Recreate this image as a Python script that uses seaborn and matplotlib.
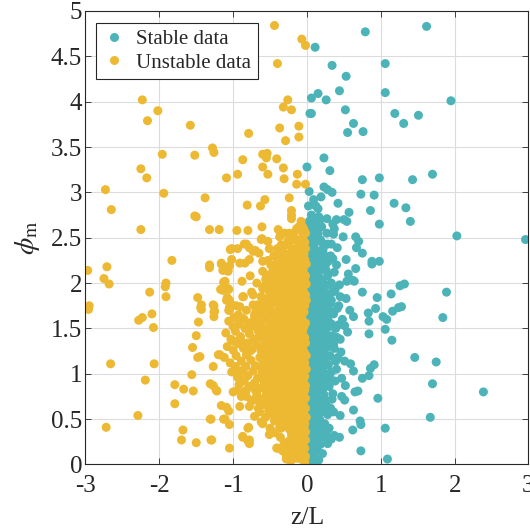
import numpy as np
import pandas as pd
import matplotlib
matplotlib.use("Agg")
import matplotlib.pyplot as plt
import seaborn as sns

# ---------------------------------------------------------------- data
# Stable stratification (z/L > 0): scattered points
stable_sparse = [
    (1.62, 4.83), (0.79, 4.77), (0.11, 4.60), (1.06, 4.42), (0.34, 4.40), (0.53, 4.28),
    (0.44, 4.12), (0.15, 4.09), (0.06, 4.04), (0.26, 4.02), (1.06, 4.10), (1.95, 4.01),
    (0.04, 3.87), (0.06, 3.87), (0.52, 3.91), (1.19, 3.87), (1.51, 3.85), (0.63, 3.76),
    (1.31, 3.76), (0.55, 3.66), (0.76, 3.67), (0.23, 3.38), (0.00, 3.28), (0.31, 3.24),
    (1.70, 3.20), (0.98, 3.16), (0.75, 3.14), (1.43, 3.14), (0.23, 3.06), (0.28, 3.03),
    (0.34, 3.00), (0.03, 3.01), (0.19, 2.95), (0.09, 2.92), (0.02, 2.85), (0.12, 2.85),
    (0.15, 2.82), (0.42, 2.88), (0.73, 2.98), (0.91, 2.97), (1.18, 2.88), (1.34, 2.83),
    (0.86, 2.80), (0.57, 2.78), (0.16, 2.73), (0.27, 2.71), (0.35, 2.65), (0.40, 2.70),
    (0.50, 2.70), (0.54, 2.68), (1.40, 2.68), (0.98, 2.65), (0.37, 2.60), (0.36, 2.54),
    (0.02, 2.63), (2.03, 2.52), (2.96, 2.48), (0.49, 2.51), (0.66, 2.51), (0.70, 2.46),
    (0.15, 2.49), (0.18, 2.48), (0.09, 2.47), (0.04, 2.48), (0.28, 2.43), (0.41, 2.39),
    (0.33, 2.43), (0.09, 2.38), (0.67, 2.39), (0.75, 2.33), (0.22, 2.33), (0.53, 2.26),
    (0.35, 2.27), (0.29, 2.24), (0.18, 2.22), (0.88, 2.24), (0.98, 2.24),
    (0.66, 2.16), (0.88, 2.21), (0.56, 2.10), (0.62, 2.03), (0.54, 2.02), (0.64, 2.02),
    (1.26, 1.97), (1.32, 1.99), (1.89, 1.90), (0.75, 1.90), (1.14, 1.88), (0.53, 1.83),
    (0.95, 1.84), (0.33, 1.81), (0.43, 1.75), (0.93, 1.72), (1.28, 1.74), (1.24, 1.73),
    (1.16, 1.69), (0.83, 1.67), (0.58, 1.70), (0.63, 1.63), (1.03, 1.63), (1.08, 1.60),
    (1.84, 1.62), (0.84, 1.58), (0.84, 1.44), (0.43, 1.54), (0.51, 1.53), (0.33, 1.55),
    (0.55, 1.46), (1.06, 1.49), (1.15, 1.37), (0.31, 1.38), (0.36, 1.33), (0.46, 1.24),
    (0.39, 1.14), (0.51, 1.14), (0.59, 1.11), (1.46, 1.18), (1.75, 1.13), (0.91, 1.10),
    (0.86, 1.06), (0.84, 0.98), (0.75, 0.95), (0.63, 1.03), (1.70, 0.89), (2.39, 0.80),
    (0.65, 0.80), (0.69, 0.81), (0.52, 0.87), (0.47, 0.75), (0.51, 0.71), (0.96, 0.73),
    (0.63, 0.60), (0.45, 0.54), (1.67, 0.52), (0.72, 0.48), (0.73, 0.44), (0.62, 0.38),
    (1.06, 0.40), (0.21, 0.42), (0.26, 0.34), (0.37, 0.32), (0.44, 0.30), (0.28, 0.23),
    (0.33, 0.28), (0.73, 0.15), (1.09, 0.06), (0.09, 0.09), (0.03, 0.01), (0.10, 0.15),
]

# Stable stratification: points piled up just above neutral
stable_core = [
    (0.02, 0.02), (0.06, 0.05), (0.03, 0.10), (0.09, 0.12), (0.05, 0.16),
    (0.02, 0.21), (0.08, 0.22), (0.13, 0.20), (0.05, 0.27), (0.11, 0.28),
    (0.02, 0.33), (0.08, 0.34), (0.14, 0.32), (0.05, 0.39), (0.11, 0.40), (0.17, 0.38),
    (0.02, 0.45), (0.08, 0.46), (0.14, 0.44), (0.05, 0.51), (0.11, 0.52), (0.17, 0.50),
    (0.02, 0.57), (0.08, 0.58), (0.14, 0.56), (0.20, 0.58), (0.05, 0.63), (0.11, 0.64), (0.17, 0.62),
    (0.02, 0.69), (0.08, 0.70), (0.14, 0.68), (0.20, 0.70), (0.05, 0.75), (0.11, 0.76), (0.17, 0.74),
    (0.02, 0.81), (0.08, 0.82), (0.14, 0.80), (0.21, 0.82), (0.05, 0.87), (0.11, 0.88), (0.17, 0.86),
    (0.02, 0.93), (0.08, 0.94), (0.14, 0.92), (0.20, 0.95), (0.05, 0.99), (0.11, 1.00), (0.17, 0.98),
    (0.02, 1.05), (0.08, 1.06), (0.14, 1.04), (0.21, 1.06), (0.05, 1.11), (0.11, 1.12), (0.17, 1.10), (0.24, 1.12),
    (0.02, 1.17), (0.08, 1.18), (0.14, 1.16), (0.20, 1.18), (0.05, 1.23), (0.11, 1.24), (0.17, 1.22), (0.23, 1.25),
    (0.02, 1.29), (0.08, 1.30), (0.14, 1.28), (0.20, 1.30), (0.05, 1.35), (0.11, 1.36), (0.17, 1.34), (0.24, 1.36),
    (0.02, 1.41), (0.08, 1.42), (0.14, 1.40), (0.20, 1.43), (0.05, 1.47), (0.11, 1.48), (0.17, 1.46), (0.25, 1.48),
    (0.02, 1.53), (0.08, 1.54), (0.14, 1.52), (0.21, 1.54), (0.05, 1.59), (0.11, 1.60), (0.17, 1.58), (0.24, 1.60),
    (0.02, 1.65), (0.08, 1.66), (0.14, 1.64), (0.20, 1.66), (0.05, 1.71), (0.11, 1.72), (0.17, 1.70), (0.26, 1.72),
    (0.02, 1.77), (0.08, 1.78), (0.14, 1.76), (0.21, 1.78), (0.05, 1.83), (0.11, 1.84), (0.17, 1.82), (0.24, 1.84),
    (0.02, 1.89), (0.08, 1.90), (0.14, 1.88), (0.20, 1.90), (0.05, 1.95), (0.11, 1.96), (0.17, 1.94), (0.25, 1.97),
    (0.02, 2.01), (0.08, 2.02), (0.14, 2.00), (0.21, 2.02), (0.05, 2.07), (0.11, 2.08), (0.17, 2.06),
    (0.02, 2.13), (0.08, 2.14), (0.14, 2.12), (0.20, 2.15), (0.05, 2.19), (0.11, 2.20), (0.17, 2.18),
    (0.02, 2.25), (0.08, 2.26), (0.14, 2.24), (0.05, 2.31), (0.11, 2.32), (0.17, 2.30),
    (0.02, 2.37), (0.08, 2.38), (0.13, 2.36), (0.05, 2.43), (0.10, 2.44),
    (0.02, 2.50), (0.07, 2.52), (0.04, 2.58), (0.09, 2.62), (0.03, 2.68), (0.06, 2.75),
    (0.28, 0.55), (0.32, 0.62), (0.27, 0.70), (0.35, 0.78), (0.30, 0.86), (0.26, 0.94),
    (0.38, 0.92), (0.33, 1.02), (0.29, 1.10), (0.40, 1.05), (0.31, 1.20), (0.37, 1.28),
    (0.29, 1.30), (0.42, 1.18), (0.34, 1.42), (0.30, 1.52), (0.39, 1.50), (0.45, 1.38),
    (0.28, 1.62), (0.36, 1.66), (0.32, 1.78), (0.41, 1.72), (0.29, 1.88), (0.38, 1.92),
    (0.33, 2.00), (0.44, 1.98), (0.28, 2.08), (0.37, 2.12), (0.25, 2.20), (0.32, 2.30),
    (0.22, 2.38), (0.27, 2.55), (0.20, 2.62), (0.24, 0.45), (0.30, 0.40), (0.22, 0.30),
    (0.18, 0.22), (0.14, 0.15), (0.48, 1.60), (0.47, 0.95), (0.45, 1.85), (0.26, 1.00),
    (0.24, 1.75),
    (0.19, 0.32), (0.22, 0.44), (0.24, 0.62), (0.23, 0.77), (0.25, 0.88), (0.27, 1.18),
    (0.28, 1.42), (0.29, 1.58), (0.30, 1.70), (0.29, 1.98), (0.26, 2.14), (0.22, 2.26),
    (0.20, 2.45), (0.15, 2.55), (0.12, 2.68), (0.18, 2.70), (0.34, 0.72), (0.38, 1.15),
    (0.41, 1.40), (0.35, 1.90), (0.40, 2.20), (0.31, 0.95), (0.36, 0.58), (0.21, 0.12),
    (0.16, 0.05), (0.08, 0.02),
]

# Unstable stratification (z/L < 0): scattered points
unstable_sparse = [
    (-2.23, 4.02), (-2.02, 3.90), (-2.16, 3.79), (-1.58, 3.74), (-0.79, 3.65), (-1.28, 3.49),
    (-1.26, 3.44), (-1.96, 3.42), (-1.52, 3.41), (-0.87, 3.36), (-2.25, 3.26), (-2.17, 3.16),
    (-0.94, 3.20), (-1.09, 3.16), (-2.73, 3.03), (-1.94, 2.99), (-1.38, 2.94), (-2.65, 2.81),
    (-0.81, 2.86), (-0.63, 2.85), (-1.52, 2.74), (-1.50, 2.73), (-2.25, 2.59), (-1.32, 2.59),
    (-1.19, 2.59), (-0.95, 2.58), (-0.80, 2.58), (-0.61, 2.62), (-0.62, 2.48), (-0.82, 2.43),
    (-0.78, 2.39), (-1.04, 2.37), (-0.94, 2.38), (-0.70, 2.36), (-0.65, 2.33), (-1.83, 2.25),
    (-0.60, 3.42), (-0.60, 3.28),
    (-0.44, 4.84), (-0.07, 4.69), (-0.02, 4.62), (-0.40, 4.42), (-0.26, 4.02), (-0.32, 3.94),
    (-0.21, 3.91), (-0.37, 3.71), (-0.11, 3.73), (-0.29, 3.57), (-0.11, 3.61), (-0.54, 3.43),
    (-0.55, 3.38), (-0.41, 3.37), (-0.32, 3.27), (-0.53, 3.20), (-0.31, 3.15), (-0.13, 3.20),
    (-0.14, 3.09), (-0.02, 3.09), (-0.57, 2.92), (-0.24, 2.94), (-0.21, 2.80), (-0.21, 2.75),
    (-0.06, 2.62), (-0.04, 2.59), (-0.39, 2.59),
    (-0.21, 2.71), (-0.11, 2.62), (-0.08, 2.58), (-1.02, 2.38), (-0.85, 2.43), (-0.73, 2.35),
    (-0.61, 2.49), (-0.53, 2.46), (-0.51, 2.38), (-0.37, 2.51), (-0.35, 2.42), (-0.26, 2.46),
    (-0.15, 2.48), (-1.02, 2.26), (-0.91, 2.22), (-0.84, 2.22), (-0.78, 2.26), (-1.32, 2.20),
    (-1.16, 2.22), (-1.14, 2.14), (-1.07, 2.14), (-0.60, 2.24), (-0.49, 2.20), (-0.60, 2.13),
    (-0.42, 2.31), (-1.11, 2.02), (-1.14, 1.92), (-1.07, 1.94), (-1.05, 1.81), (-1.02, 1.76),
    (-1.27, 1.76), (-1.25, 1.69), (-0.87, 1.85), (-0.73, 1.87), (-0.60, 1.94), (-0.62, 1.85),
    (-0.49, 2.03), (-0.55, 2.09), (-0.42, 2.16), (-0.91, 1.74), (-0.73, 1.76), (-0.60, 1.72),
    (-0.49, 1.70), (-0.87, 1.61), (-0.71, 1.65), (-1.43, 1.76),
    (-2.97, 2.14), (-2.71, 2.18), (-2.75, 2.05), (-2.68, 1.99), (-2.95, 1.75), (-2.96, 1.71),
    (-2.13, 1.90), (-1.91, 2.00), (-1.92, 1.96), (-1.91, 1.85), (-2.28, 1.59), (-2.23, 1.62),
    (-2.10, 1.66), (-2.08, 1.51), (-2.66, 1.11), (-2.07, 1.11), (-2.19, 0.93), (-1.79, 0.88),
    (-1.67, 0.83), (-1.79, 0.67), (-2.29, 0.54), (-2.72, 0.41), (-1.68, 0.38), (-1.70, 0.27),
    (-1.50, 0.24), (-1.29, 0.27), (-1.31, 0.50), (-1.05, 0.18), (-1.54, 0.81), (-1.56, 0.99),
    (-1.55, 1.29), (-1.50, 1.42), (-1.48, 1.18), (-1.48, 1.84), (-1.44, 1.73), (-1.43, 1.71),
    (-1.47, 1.57), (-1.27, 1.08), (-1.31, 0.89), (-1.27, 0.87), (-1.22, 0.81), (-1.20, 1.21),
    (-1.26, 1.75), (-1.26, 1.68), (-1.26, 1.63), (-1.32, 2.17), (-1.16, 2.21), (-1.05, 2.19),
    (-1.07, 2.13), (-1.13, 2.01), (-1.17, 1.93), (-1.06, 1.93), (-1.08, 1.84), (-1.09, 1.81),
    (-1.05, 1.73), (-1.06, 1.70), (-1.16, 0.65), (-1.09, 0.63), (-1.13, 0.50), (-1.05, 0.44),
    (-1.06, 0.59), (-0.87, 0.30), (-0.80, 0.26), (-0.78, 0.23), (-0.79, 0.41),
    (-1.45, 1.19), (-1.18, 1.21), (-1.23, 0.82), (-1.00, 0.80), (-0.94, 0.82), (-0.82, 0.82),
    (-1.30, 0.50), (-1.11, 0.50), (-1.30, 0.27), (-0.87, 0.31), (-0.78, 0.27), (-0.80, 0.40),
    (-0.62, 0.47), (-0.51, 0.33), (-0.40, 0.18), (-0.35, 0.40), (-0.28, 0.10), (-0.21, 0.10),
    (-0.12, 0.07), (-0.91, 0.64), (-0.78, 0.64), (-0.71, 0.53), (-0.64, 0.58), (-0.73, 0.71),
    (-0.60, 0.67), (-0.89, 0.75),
    (-0.37, 0.41), (-0.41, 0.18), (-0.24, 0.26), (-0.28, 0.06), (-0.12, 0.09), (-0.21, 0.17),
    (-0.09, 0.20),
]

# Unstable stratification: points piled up just below neutral
unstable_core = [
    (-0.03, 0.03), (-0.08, 0.06), (-0.02, 0.09),
    (-0.05, 0.13), (-0.11, 0.15), (-0.03, 0.18), (-0.09, 0.19),
    (-0.14, 0.22), (-0.06, 0.24), (-0.02, 0.27), (-0.12, 0.28), (-0.18, 0.26), (-0.07, 0.30),
    (-0.21, 0.33), (-0.15, 0.35), (-0.08, 0.34), (-0.02, 0.36), (-0.24, 0.39), (-0.17, 0.40),
    (-0.11, 0.38), (-0.04, 0.41),
    (-0.29, 0.44), (-0.22, 0.45), (-0.15, 0.43), (-0.09, 0.46), (-0.03, 0.45), (-0.26, 0.50),
    (-0.19, 0.49), (-0.12, 0.51), (-0.06, 0.50), (-0.01, 0.52),
    (-0.36, 0.55), (-0.30, 0.56), (-0.23, 0.54), (-0.16, 0.57), (-0.10, 0.56), (-0.04, 0.55),
    (-0.33, 0.61), (-0.27, 0.60), (-0.20, 0.62), (-0.13, 0.61), (-0.07, 0.60), (-0.02, 0.62),
    (-0.45, 0.65), (-0.39, 0.66), (-0.32, 0.67), (-0.25, 0.65), (-0.18, 0.67), (-0.11, 0.66),
    (-0.05, 0.68), (-0.42, 0.71), (-0.35, 0.72), (-0.28, 0.71), (-0.21, 0.73), (-0.14, 0.72),
    (-0.08, 0.71), (-0.02, 0.73),
    (-0.47, 0.76), (-0.40, 0.77), (-0.33, 0.76), (-0.26, 0.78), (-0.19, 0.77), (-0.12, 0.76),
    (-0.05, 0.78), (-0.44, 0.82), (-0.37, 0.81), (-0.30, 0.83), (-0.23, 0.82), (-0.16, 0.81),
    (-0.09, 0.83), (-0.03, 0.82),
    (-0.50, 0.87), (-0.43, 0.88), (-0.36, 0.86), (-0.29, 0.88), (-0.22, 0.87), (-0.15, 0.86),
    (-0.08, 0.88), (-0.02, 0.87), (-0.47, 0.93), (-0.40, 0.92), (-0.33, 0.94), (-0.26, 0.93),
    (-0.19, 0.92), (-0.12, 0.94), (-0.05, 0.93),
    (-0.52, 0.98), (-0.45, 0.97), (-0.38, 0.99), (-0.31, 0.98), (-0.24, 0.97), (-0.17, 0.99),
    (-0.10, 0.98), (-0.03, 0.97), (-0.49, 1.03), (-0.42, 1.04), (-0.35, 1.02), (-0.28, 1.03),
    (-0.21, 1.04), (-0.14, 1.02), (-0.07, 1.03), (-0.01, 1.05),
    (-0.55, 1.08), (-0.48, 1.09), (-0.41, 1.08), (-0.34, 1.07), (-0.27, 1.09), (-0.20, 1.08),
    (-0.13, 1.07), (-0.06, 1.09), (-0.52, 1.14), (-0.45, 1.13), (-0.38, 1.14), (-0.31, 1.12),
    (-0.24, 1.14), (-0.17, 1.13), (-0.10, 1.14), (-0.03, 1.12),
    (-0.56, 1.19), (-0.49, 1.18), (-0.42, 1.20), (-0.35, 1.19), (-0.28, 1.18), (-0.21, 1.20),
    (-0.14, 1.19), (-0.07, 1.18), (-0.01, 1.20), (-0.53, 1.25), (-0.46, 1.24), (-0.39, 1.25),
    (-0.32, 1.23), (-0.25, 1.25), (-0.18, 1.24), (-0.11, 1.25), (-0.04, 1.24),
    (-0.55, 1.30), (-0.48, 1.29), (-0.41, 1.31), (-0.34, 1.30), (-0.27, 1.29), (-0.20, 1.31),
    (-0.13, 1.30), (-0.06, 1.29), (-0.51, 1.35), (-0.44, 1.36), (-0.37, 1.35), (-0.30, 1.34),
    (-0.23, 1.36), (-0.16, 1.35), (-0.09, 1.36), (-0.02, 1.34),
    (-0.52, 1.41), (-0.45, 1.40), (-0.38, 1.42), (-0.31, 1.41), (-0.24, 1.40), (-0.17, 1.42),
    (-0.10, 1.41), (-0.03, 1.40), (-0.48, 1.46), (-0.41, 1.47), (-0.34, 1.46), (-0.27, 1.45),
    (-0.20, 1.47), (-0.13, 1.46), (-0.06, 1.47),
    (-0.46, 1.52), (-0.39, 1.51), (-0.32, 1.53), (-0.25, 1.52), (-0.18, 1.51), (-0.11, 1.53),
    (-0.04, 1.52), (-0.43, 1.57), (-0.36, 1.58), (-0.29, 1.57), (-0.22, 1.56), (-0.15, 1.58),
    (-0.08, 1.57), (-0.02, 1.56),
    (-0.42, 1.63), (-0.35, 1.62), (-0.28, 1.64), (-0.21, 1.63), (-0.14, 1.62), (-0.07, 1.64),
    (-0.39, 1.68), (-0.32, 1.69), (-0.25, 1.68), (-0.18, 1.67), (-0.11, 1.69), (-0.04, 1.68),
    (-0.38, 1.74), (-0.31, 1.73), (-0.24, 1.75), (-0.17, 1.74), (-0.10, 1.73), (-0.03, 1.75),
    (-0.35, 1.80), (-0.28, 1.79), (-0.21, 1.81), (-0.14, 1.80), (-0.07, 1.79), (-0.01, 1.81),
    (-0.37, 1.86), (-0.30, 1.85), (-0.23, 1.87), (-0.16, 1.86), (-0.09, 1.85), (-0.02, 1.87),
    (-0.33, 1.92), (-0.26, 1.91), (-0.19, 1.92), (-0.12, 1.90), (-0.05, 1.92),
    (-0.35, 1.97), (-0.28, 1.98), (-0.21, 1.96), (-0.14, 1.98), (-0.07, 1.97), (-0.01, 1.99),
    (-0.31, 2.03), (-0.24, 2.02), (-0.17, 2.04), (-0.10, 2.03), (-0.03, 2.02),
    (-0.29, 2.08), (-0.22, 2.09), (-0.15, 2.07), (-0.08, 2.09), (-0.02, 2.08), (-0.26, 2.14),
    (-0.19, 2.13), (-0.12, 2.15), (-0.05, 2.14),
    (-0.27, 2.19), (-0.20, 2.20), (-0.13, 2.18), (-0.06, 2.20), (-0.01, 2.21), (-0.23, 2.25),
    (-0.16, 2.26), (-0.09, 2.24), (-0.03, 2.26),
    (-0.18, 2.31), (-0.11, 2.30), (-0.04, 2.32), (-0.14, 2.37), (-0.07, 2.36), (-0.02, 2.38),
    (-0.10, 2.43), (-0.03, 2.45), (-0.06, 2.51), (-0.02, 2.55),
    (-0.30, 0.50), (-0.38, 0.60), (-0.48, 0.70), (-0.51, 0.80), (-0.54, 0.92), (-0.57, 1.02),
    (-0.58, 1.15), (-0.58, 1.25), (-0.57, 1.36), (-0.55, 1.45), (-0.50, 1.57), (-0.46, 1.68),
    (-0.42, 1.79), (-0.40, 1.90), (-0.37, 2.02), (-0.33, 2.12), (-0.30, 2.25),
    (-0.25, 0.85), (-0.18, 0.95), (-0.33, 1.16), (-0.21, 1.28), (-0.10, 1.44), (-0.28, 1.50),
    (-0.16, 1.71), (-0.06, 1.90), (-0.20, 2.05), (-0.11, 2.12), (-0.06, 0.80), (-0.14, 0.58),
    (-0.04, 0.30),
    (-1.10, 1.45), (-1.03, 1.38), (-0.97, 1.47), (-0.90, 1.41), (-0.84, 1.50), (-0.78, 1.44),
    (-0.72, 1.38), (-0.66, 1.47), (-0.61, 1.41),
    (-1.08, 1.30), (-1.00, 1.26), (-0.93, 1.33), (-0.86, 1.28), (-0.80, 1.34), (-0.74, 1.27),
    (-0.68, 1.32), (-0.62, 1.25),
    (-1.12, 1.18), (-1.04, 1.12), (-0.96, 1.20), (-0.89, 1.14), (-0.82, 1.21), (-0.76, 1.15),
    (-0.70, 1.09), (-0.64, 1.18), (-0.59, 1.10),
    (-1.02, 1.02), (-0.94, 0.96), (-0.87, 1.04), (-0.80, 0.98), (-0.73, 1.03), (-0.67, 0.95),
    (-0.61, 1.01),
    (-0.92, 0.88), (-0.85, 0.92), (-0.78, 0.86), (-0.71, 0.90), (-0.64, 0.84), (-0.58, 0.91),
    (-0.82, 0.75), (-0.75, 0.70), (-0.68, 0.77), (-0.62, 0.72), (-0.55, 0.78),
    (-0.66, 0.62), (-0.58, 0.66), (-0.52, 0.59), (-0.47, 0.55), (-0.44, 0.48), (-0.39, 0.52),
    (-0.34, 0.45),
    (-1.06, 1.58), (-0.99, 1.62), (-0.92, 1.55), (-0.85, 1.60), (-0.78, 1.56), (-0.71, 1.62),
    (-0.64, 1.55), (-0.57, 1.60), (-0.51, 1.66),
    (-1.05, 1.70), (-0.96, 1.75), (-0.82, 1.70), (-0.67, 1.76), (-0.55, 1.72), (-0.48, 1.78),
    (-0.45, 1.85), (-0.52, 1.92),
    (-0.86, 1.85), (-0.75, 1.90), (-0.62, 1.85), (-0.58, 1.96), (-0.44, 1.98), (-0.40, 2.07),
    (-0.47, 2.12), (-0.36, 2.18),
    (-0.88, 2.02), (-0.77, 2.08), (-0.68, 2.00), (-0.56, 2.04), (-0.53, 2.25), (-0.45, 2.30),
    (-0.40, 2.38), (-0.33, 2.35), (-0.28, 2.42), (-0.22, 2.47), (-0.30, 2.55), (-0.18, 2.55),
    (-0.50, 0.40), (-0.43, 0.35), (-0.36, 0.30), (-0.31, 0.24), (-0.26, 0.18), (-0.20, 0.13),
    (-0.16, 0.07), (-0.22, 0.04), (-0.27, 0.08), (-0.33, 0.15),
    (-0.56, 0.52), (-0.60, 0.45),
    (-1.00, 1.52), (-0.93, 1.65), (-0.88, 1.35), (-0.83, 1.08), (-0.77, 1.25), (-0.75, 1.52),
    (-0.69, 1.70), (-0.66, 1.40), (-0.63, 1.08), (-0.60, 0.98), (-0.58, 1.32), (-0.57, 1.50),
    (-0.56, 0.85), (-0.53, 1.20), (-0.52, 0.70), (-0.50, 1.60), (-0.48, 0.63), (-0.46, 1.92),
    (-0.99, 1.36), (-0.97, 1.08), (-0.91, 1.00), (-0.85, 0.80), (-0.70, 0.82), (-0.69, 1.55),
    (-0.65, 0.70), (-0.62, 1.64), (-0.59, 1.80), (-0.55, 2.00), (-0.51, 1.85), (-0.43, 2.05),
    (-0.40, 1.95), (-0.41, 2.22), (-0.33, 2.27), (-0.25, 2.32), (-0.20, 2.38), (-0.12, 2.45),
    (-0.24, 2.55), (-0.14, 2.60), (-0.08, 2.68),
]

group_names = ["Stable data", "Unstable data"]
group_colors = ["#4cb4b9", "#edb933"]

x_ticks = [-3, -2, -1, 0, 1, 2, 3]
x_tick_labels = ["-3", "-2", "-1", "0", "1", "2", "3"]
y_ticks = [0, 0.5, 1, 1.5, 2, 2.5, 3, 3.5, 4, 4.5, 5]
y_tick_labels = ["0", "0.5", "1", "1.5", "2", "2.5", "3", "3.5", "4", "4.5", "5"]

# ---------------------------------------------------------------- table
stable_pts = np.array(stable_sparse + stable_core)
unstable_pts = np.array(unstable_sparse + unstable_core)
df = pd.concat([
    pd.DataFrame({"zL": stable_pts[:, 0], "phi": stable_pts[:, 1], "group": group_names[0]}),
    pd.DataFrame({"zL": unstable_pts[:, 0], "phi": unstable_pts[:, 1], "group": group_names[1]}),
], ignore_index=True)

# ---------------------------------------------------------------- style
sns.set_style("ticks")
plt.rcParams["font.family"] = ["Liberation Serif", "DejaVu Serif"]
plt.rcParams["mathtext.fontset"] = "stix"

fig = plt.figure(figsize=(5.30, 5.28), dpi=100)
ax = fig.add_axes([0.1613, 0.1203, 0.8358, 0.8589])

sns.scatterplot(
    data=df, x="zL", y="phi", hue="group", hue_order=group_names,
    palette=dict(zip(group_names, group_colors)),
    s=42, linewidth=0, alpha=1.0, ax=ax,
)

ax.set_xlim(-3, 3)
ax.set_ylim(0, 5)
ax.set_xticks(x_ticks)
ax.set_xticklabels(x_tick_labels)
ax.set_yticks(y_ticks)
ax.set_yticklabels(y_tick_labels)

ax.set_axisbelow(True)
ax.grid(True, color="#dcdcdc", linewidth=0.8)
for side in ["left", "right", "top", "bottom"]:
    ax.spines[side].set_visible(True)
    ax.spines[side].set_color("#262626")
    ax.spines[side].set_linewidth(0.8)
ax.tick_params(direction="in", length=4, width=0.6, colors="#262626",
               top=True, right=True, labelsize=18)
ax.tick_params(axis="x", pad=7.5)
ax.tick_params(axis="y", pad=2.5)
for lbl in ax.get_xticklabels() + ax.get_yticklabels():
    lbl.set_color("#262626")

ax.set_xlabel("z/L", fontsize=18.5, color="#262626", labelpad=7)
ax.set_ylabel(r"$\phi_{\mathrm{m}}$", fontsize=20, color="#262626", labelpad=6)

sns.move_legend(
    ax, "upper left", bbox_to_anchor=(0.023, 0.9735), title=None,
    frameon=True, fancybox=False, framealpha=1, edgecolor="#262626",
    fontsize=15, borderaxespad=0, handlelength=1.2, handletextpad=0.45,
    borderpad=0.3, labelspacing=0.2, markerscale=1.0,
)
ax.get_legend().get_frame().set_linewidth(0.8)

fig.savefig("out.png", dpi=100)
